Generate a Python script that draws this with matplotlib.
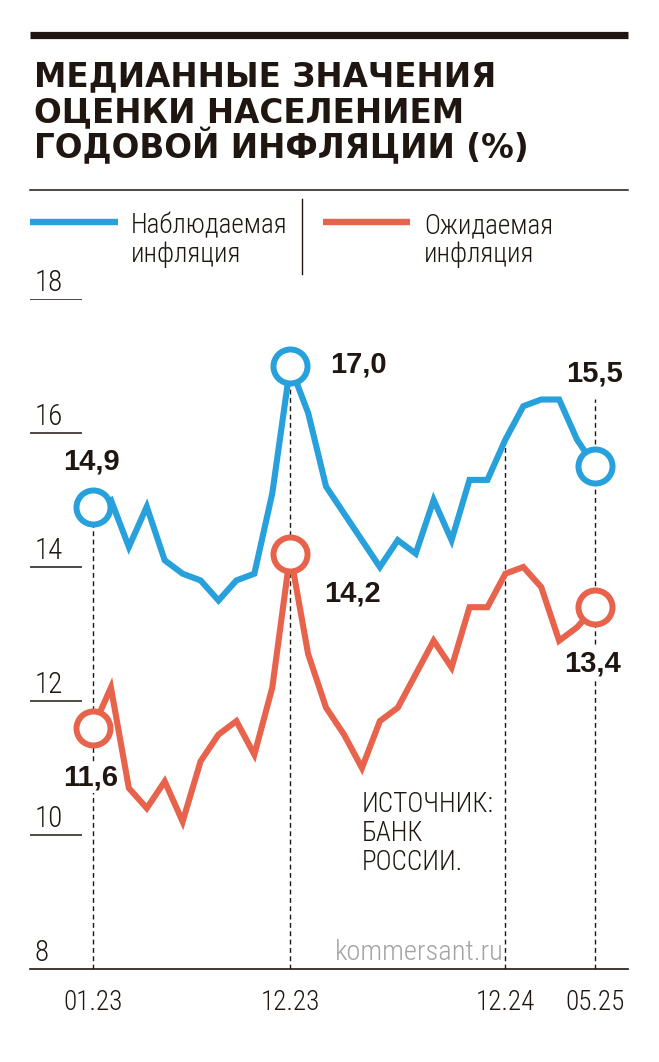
import numpy as np
import matplotlib.pyplot as plt
from matplotlib.lines import Line2D
from matplotlib import font_manager as fm

# Медианные оценки населением годовой инфляции, %, 01.23 - 05.25
months = ['01.23', '02.23', '03.23', '04.23', '05.23', '06.23', '07.23', '08.23',
          '09.23', '10.23', '11.23', '12.23', '01.24', '02.24', '03.24', '04.24',
          '05.24', '06.24', '07.24', '08.24', '09.24', '10.24', '11.24', '12.24',
          '01.25', '02.25', '03.25', '04.25', '05.25']
observed = [14.9, 15.0, 14.3, 14.9, 14.1, 13.9, 13.8, 13.5, 13.8, 13.9, 15.1, 17.0,
            16.3, 15.2, 14.8, 14.4, 14.0, 14.4, 14.2, 15.0, 14.4, 15.3, 15.3, 15.9,
            16.4, 16.5, 16.5, 15.9, 15.5]
expected = [11.6, 12.2, 10.7, 10.4, 10.8, 10.2, 11.1, 11.5, 11.7, 11.2, 12.2, 14.2,
            12.7, 11.9, 11.5, 11.0, 11.7, 11.9, 12.4, 12.9, 12.5, 13.4, 13.4, 13.9,
            14.0, 13.7, 12.9, 13.1, 13.4]

tick_months = ['01.23', '12.23', '12.24', '05.25']
y_ticks = [8, 10, 12, 14, 16, 18]
marked_months = ['01.23', '12.23', '05.25']

title_lines = ['МЕДИАННЫЕ ЗНАЧЕНИЯ', 'ОЦЕНКИ НАСЕЛЕНИЕМ', 'ГОДОВОЙ ИНФЛЯЦИИ (%)']
legend_names = [['Наблюдаемая', 'инфляция'], ['Ожидаемая', 'инфляция']]
source_lines = ['ИСТОЧНИК:', 'БАНК', 'РОССИИ.']

BLUE = '#27a0dc'
RED = '#e8634b'
DARK = '#1f1611'
BOLD = ['Liberation Sans', 'DejaVu Sans']


def pick_narrow():
    # узкий шрифт для подписей, если такой есть в системе
    names = {f.name for f in fm.fontManager.ttflist}
    for n in ['Liberation Sans Narrow', 'Roboto Condensed', 'Open Sans Condensed',
              'Noto Sans Condensed', 'DejaVu Sans Condensed']:
        if n in names:
            return dict(family=[n, 'DejaVu Sans'], fontweight='light'), True
    for f in fm.fontManager.ttflist:
        st = f.stretch
        cond = st in ('condensed', 'semi-condensed', 'extra-condensed') or \
            (isinstance(st, (int, float)) and st < 500)
        if cond and f.name in ('DejaVu Sans', 'Noto Sans', 'Roboto', 'Open Sans'):
            return dict(family=[f.name, 'DejaVu Sans'], fontstretch=st,
                        fontweight='light'), True
    return dict(family=['DejaVu Sans']), False


NARROW, has_narrow = pick_narrow()
k_size = 1.0 if has_narrow else 0.85

W, H = 659, 1062
fig = plt.figure(figsize=(W / 100, H / 100), dpi=100)


def fx(x):
    return x / W


def fy(y):
    return 1 - y / H


# область графика: 01.23 -> x=93px, 05.25 -> x=595px, 8 -> 969px, 18 -> 299px
ax = fig.add_axes([fx(30), fy(969), (628 - 30) / W, (969 - 299) / H])
step = (595 - 93) / 28
ax.set_xlim(-(93 - 30) / step, 28 + (628 - 595) / step)
ax.set_ylim(8, 18)
for s in ['left', 'right', 'top']:
    ax.spines[s].set_visible(False)
ax.spines['bottom'].set_color(DARK)
ax.spines['bottom'].set_linewidth(1.2)
ax.set_xticks([])
ax.set_yticks([])
ax.patch.set_alpha(0)

x = np.arange(len(months))

# короткие риски по оси Y
ytr = ax.get_yaxis_transform()
ax.hlines(y_ticks[1:], 0, (82 - 30) / 598, transform=ytr, color=DARK, lw=1.1)
for v in y_ticks:
    ax.annotate(str(v), xy=(0, v), xycoords=ytr, xytext=(5, 8),
                textcoords='offset pixels', va='baseline', ha='left',
                fontsize=21 * k_size, color=DARK, **NARROW)

# подписи по оси X
xtr = ax.get_xaxis_transform()
for m in tick_months:
    ax.annotate(m, xy=(months.index(m), 0), xycoords=xtr, xytext=(0, -41),
                textcoords='offset pixels', va='baseline', ha='center',
                fontsize=19.5 * k_size, color=DARK, annotation_clip=False, **NARROW)

# пунктирные вертикали
tops = {'01.23': observed[0], '12.23': observed[11], '12.24': observed[23],
        '05.25': observed[28] + 1.0}
for m in tick_months:
    ax.vlines(months.index(m), 8, tops[m], color=DARK, lw=1.0,
              linestyles=(0, (3.5, 2.5)), zorder=1)

ax.plot(x, observed, color=BLUE, lw=4.4, solid_joinstyle='miter', zorder=2, clip_on=False)
ax.plot(x, expected, color=RED, lw=4.4, solid_joinstyle='miter', zorder=2, clip_on=False)

# кружки и значения (сдвиг подписи в пикселях: вправо, вверх)
label_offsets = {
    ('obs', '01.23'): (-2, 45, 'center'),
    ('obs', '12.23'): (40, 1, 'left'),
    ('obs', '05.25'): (0, 93, 'center'),
    ('exp', '01.23'): (-2, -50, 'center'),
    ('exp', '12.23'): (62, -40, 'center'),
    ('exp', '05.25'): (-2, -56, 'center'),
}
for key, series, color in [('obs', observed, BLUE), ('exp', expected, RED)]:
    for m in marked_months:
        i = months.index(m)
        ax.plot(i, series[i], 'o', ms=24.5, mfc='white', mec=color, mew=4.3,
                zorder=3, clip_on=False)
        dx, dy, ha = label_offsets[(key, m)]
        ax.annotate(f'{series[i]:.1f}'.replace('.', ','), xy=(i, series[i]),
                    xytext=(dx, dy), textcoords='offset pixels', ha=ha, va='center',
                    fontsize=21, fontweight='bold', color=DARK, family=BOLD, zorder=4,
                    bbox=dict(boxstyle='square,pad=0.05', fc='white', ec='none'))

# источник и водяной знак
for k, line in enumerate(source_lines):
    fig.text(fx(362), fy(812 + 29 * k), line, va='baseline', ha='left',
             fontsize=19.5 * k_size, color=DARK, **NARROW)
fig.text(fx(335), fy(960), 'kommersant.ru', va='baseline', ha='left',
         fontsize=20.5 * k_size, color='#a3a3a3', **NARROW)

# шапка
fig.add_artist(Line2D([fx(30), fx(628)], [fy(34.5)] * 2, color=DARK, lw=5.2,
                      solid_capstyle='butt'))
for k, line in enumerate(title_lines):
    fig.text(fx(34), fy(86 + 36 * k), line, va='baseline', ha='left',
             fontsize=23.5, fontweight='heavy', color=DARK, family=['DejaVu Sans'])
fig.add_artist(Line2D([fx(30), fx(628)], [fy(190)] * 2, color=DARK, lw=1.1))

# легенда
fig.add_artist(Line2D([fx(302)] * 2, [fy(199), fy(274)], color=DARK, lw=1.0))
for (x0, x1, tx), names, color in [((30, 118, 131), legend_names[0], BLUE),
                                   ((323, 410, 424), legend_names[1], RED)]:
    fig.add_artist(Line2D([fx(x0), fx(x1)], [fy(222)] * 2, color=color, lw=4.6,
                          solid_capstyle='butt'))
    for k, t in enumerate(names):
        fig.text(fx(tx), fy(233 + 29 * k), t, va='baseline', ha='left',
                 fontsize=19.5 * k_size, color=DARK, **NARROW)

fig.savefig('out.png', dpi=100, facecolor='white')
